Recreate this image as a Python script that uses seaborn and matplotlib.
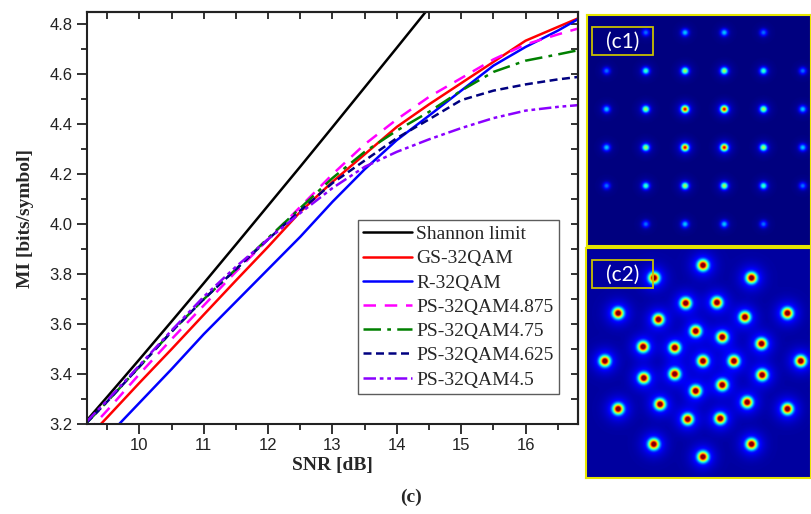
import numpy as np
import pandas as pd
import matplotlib
matplotlib.use("Agg")
import matplotlib.pyplot as plt
import seaborn as sns
from matplotlib.ticker import MultipleLocator, FormatStrFormatter
from matplotlib.patches import Rectangle

# ---------------- data ----------------
snr = [9.18, 9.5, 10, 10.5, 11, 11.5, 12, 12.5, 13, 13.5, 14, 14.5, 15, 15.5, 16, 16.5, 16.82]
snr_shannon = [9.18, 9.5, 10, 10.5, 11, 11.5, 12, 12.5, 13, 13.5, 14, 14.5, 15]
shannon = [3.214, 3.309, 3.459, 3.611, 3.764, 3.919, 4.075, 4.231, 4.389, 4.548, 4.707, 4.867, 5.028]
gs_32qam = [3.14, 3.227, 3.365, 3.50, 3.638, 3.775, 3.91, 4.05, 4.17, 4.28, 4.39, 4.48, 4.565, 4.65, 4.735, 4.79, 4.825]
r_32qam = [3.06, 3.15, 3.285, 3.42, 3.56, 3.69, 3.82, 3.95, 4.09, 4.22, 4.337, 4.435, 4.535, 4.635, 4.71, 4.775, 4.822]
ps_4875 = [3.165, 3.255, 3.40, 3.54, 3.675, 3.81, 3.94, 4.07, 4.20, 4.32, 4.42, 4.51, 4.585, 4.66, 4.72, 4.76, 4.784]
ps_475 = [3.205, 3.29, 3.43, 3.57, 3.70, 3.82, 3.945, 4.065, 4.185, 4.29, 4.375, 4.45, 4.535, 4.61, 4.655, 4.68, 4.697]
ps_4625 = [3.205, 3.29, 3.43, 3.57, 3.70, 3.82, 3.94, 4.055, 4.165, 4.255, 4.345, 4.42, 4.497, 4.535, 4.56, 4.58, 4.59]
ps_45 = [3.21, 3.295, 3.435, 3.575, 3.71, 3.83, 3.94, 4.045, 4.145, 4.23, 4.29, 4.34, 4.385, 4.425, 4.455, 4.47, 4.477]

series_names = ["Shannon limit", "GS-32QAM", "R-32QAM", "PS-32QAM4.875",
                "PS-32QAM4.75", "PS-32QAM4.625", "PS-32QAM4.5"]

# (c1) PS-32QAM constellation (grid positions) and relative spot intensity
c1_i = [-1.5, -0.5, 0.5, 1.5,
        -2.5, -1.5, -0.5, 0.5, 1.5, 2.5,
        -2.5, -1.5, -0.5, 0.5, 1.5, 2.5,
        -2.5, -1.5, -0.5, 0.5, 1.5, 2.5,
        -2.5, -1.5, -0.5, 0.5, 1.5, 2.5,
        -1.5, -0.5, 0.5, 1.5]
c1_q = [2.5, 2.5, 2.5, 2.5,
        1.5, 1.5, 1.5, 1.5, 1.5, 1.5,
        0.5, 0.5, 0.5, 0.5, 0.5, 0.5,
        -0.5, -0.5, -0.5, -0.5, -0.5, -0.5,
        -1.5, -1.5, -1.5, -1.5, -1.5, -1.5,
        -2.5, -2.5, -2.5, -2.5]
c1_w = [0.22, 0.30, 0.30, 0.22,
        0.22, 0.40, 0.52, 0.52, 0.40, 0.22,
        0.30, 0.52, 0.86, 0.86, 0.52, 0.30,
        0.30, 0.52, 0.86, 0.86, 0.52, 0.30,
        0.22, 0.40, 0.52, 0.52, 0.40, 0.22,
        0.22, 0.30, 0.30, 0.22]

# (c2) GS-32QAM constellation points
c2_i = [0, -1.47, 1.46, -0.52, 0.42, -2.55, 2.54, -1.34, 1.26, -0.22, 0.58, -1.80, -0.85, 1.76,
        -2.95, 0, 0.93, 2.94, -1.78, -0.85, 1.78, -0.22, 0.58, -2.55, -1.29, 1.33, 2.54,
        -0.46, 0.52, -1.48, 1.46, 0]
c2_q = [2.88, 2.50, 2.50, 1.74, 1.76, 1.44, 1.44, 1.25, 1.32, 0.90, 0.72, 0.43, 0.40, 0.52,
        0, 0, 0, 0, -0.51, -0.39, -0.42, -0.90, -0.72, -1.44, -1.30, -1.24, -1.44,
        -1.75, -1.73, -2.50, -2.50, -2.88]

# ---------------- style ----------------
sns.set_theme(style="ticks")
plt.rcParams["font.family"] = ["Liberation Sans", "DejaVu Sans"]
plt.rcParams["axes.linewidth"] = 1.5

W, H = 811, 514
fig = plt.figure(figsize=(W / 100, H / 100), dpi=100)
fig.patch.set_facecolor("white")

def fx(px):
    return px / W

def fy(py):
    return 1 - py / H

L, R, T, B = 86.7, 578.3, 12.0, 424.0
ax = fig.add_axes([fx(L), fy(B), fx(R - L), (B - T) / H])
ax.set_facecolor("white")

rows = []
for name, xs, ys in [
    ("Shannon limit", snr_shannon, shannon),
    ("GS-32QAM", snr, gs_32qam),
    ("R-32QAM", snr, r_32qam),
    ("PS-32QAM4.875", snr, ps_4875),
    ("PS-32QAM4.75", snr, ps_475),
    ("PS-32QAM4.625", snr, ps_4625),
    ("PS-32QAM4.5", snr, ps_45),
]:
    for x, y in zip(xs, ys):
        rows.append({"SNR": x, "MI": y, "series": name})
df = pd.DataFrame(rows)

colors = {
    "Shannon limit": "#000000",
    "GS-32QAM": "#FF0000",
    "R-32QAM": "#0000FF",
    "PS-32QAM4.875": "#FF00FF",
    "PS-32QAM4.75": "#008000",
    "PS-32QAM4.625": "#000080",
    "PS-32QAM4.5": "#8B00FF",
}
styles = {
    "Shannon limit": "-",
    "GS-32QAM": "-",
    "R-32QAM": "-",
    "PS-32QAM4.875": (0, (5, 3.5)),
    "PS-32QAM4.75": (0, (7, 2.5, 1.5, 2.5)),
    "PS-32QAM4.625": (0, (3.2, 1.8)),
    "PS-32QAM4.5": (0, (5, 1.5, 1.5, 1.5, 1.5, 1.5)),
}

for name in series_names:
    sub = df[df["series"] == name]
    sns.lineplot(data=sub, x="SNR", y="MI", ax=ax, color=colors[name],
                 linestyle=styles[name], linewidth=1.8, label=name,
                 estimator=None, sort=False)

ax.set_xlim(9.18, 16.82)
ax.set_ylim(3.2, 4.85)
ax.xaxis.set_major_locator(MultipleLocator(1))
ax.xaxis.set_minor_locator(MultipleLocator(0.5))
ax.yaxis.set_major_locator(MultipleLocator(0.2))
ax.yaxis.set_minor_locator(MultipleLocator(0.1))
ax.yaxis.set_major_formatter(FormatStrFormatter("%.1f"))
ax.xaxis.set_major_formatter(FormatStrFormatter("%d"))
ax.tick_params(axis="both", which="major", direction="out", length=7, width=1.3,
               labelsize=12, colors="#222222", pad=3)
ax.tick_params(axis="both", which="minor", direction="out", length=4, width=1.3,
               colors="#222222")
for s in ax.spines.values():
    s.set_color("#222222")
    s.set_linewidth(1.5)

secx = ax.secondary_xaxis("top")
secx.xaxis.set_major_locator(MultipleLocator(1))
secx.xaxis.set_minor_locator(MultipleLocator(0.5))
secx.tick_params(which="both", direction="in", length=5, width=1.3, labeltop=False,
                 colors="#222222")
secy = ax.secondary_yaxis("right")
secy.yaxis.set_major_locator(MultipleLocator(0.2))
secy.yaxis.set_minor_locator(MultipleLocator(0.1))
secy.tick_params(which="both", direction="in", length=5, width=1.3, labelright=False,
                 colors="#222222")

ax.set_xlabel("SNR [dB]", fontsize=14, fontweight="bold",
              family=["Liberation Serif"], labelpad=3)
ax.set_ylabel("MI [bits/symbol]", fontsize=14, fontweight="bold",
              family=["Liberation Serif"], labelpad=11)

leg = ax.legend(loc="lower right", bbox_to_anchor=(0.961, 0.072),
                prop={"family": "Liberation Serif", "size": 14},
                frameon=True, fancybox=False, edgecolor="#333333",
                handlelength=2.5, handletextpad=0.2, labelspacing=0.34,
                borderpad=0.3, borderaxespad=0.0)
leg.get_frame().set_linewidth(1.0)

fig.text(fx(411), fy(497), "(c)", ha="center", va="center", fontsize=14,
         fontweight="bold", family=["Liberation Serif"])

# ---------------- constellation panels ----------------
def density(xs, ys, ws, sig, xlim, ylim, nx, ny, halo_amp, halo_sig, base):
    gx = np.linspace(xlim[0], xlim[1], nx)
    gy = np.linspace(ylim[0], ylim[1], ny)
    X, Y = np.meshgrid(gx, gy)
    Z = np.full_like(X, base)
    for x0, y0, w in zip(xs, ys, ws):
        d2 = (X - x0) ** 2 + (Y - y0) ** 2
        Z += w * np.exp(-d2 / (2 * sig ** 2)) + halo_amp * w * np.exp(-d2 / (2 * halo_sig ** 2))
    return np.clip(Z, 0, 1)

yellow = "#E6E600"

# c1 panel
c1_box = (586.7, 15.0, 811.0, 246.0)
cx1, cy1, ux1, uy1 = 704.0, 128.3, 39.2, 38.4
ax1 = fig.add_axes([fx(c1_box[0]), fy(c1_box[3]), fx(c1_box[2] - c1_box[0]),
                    (c1_box[3] - c1_box[1]) / H])
xl1 = ((c1_box[0] - cx1) / ux1, (c1_box[2] - cx1) / ux1)
yl1 = ((cy1 - c1_box[3]) / uy1, (cy1 - c1_box[1]) / uy1)
Z1 = density(c1_i, c1_q, c1_w, 0.062, xl1, yl1, 450, 462, 0.10, 0.16, 0.0)
ax1.imshow(Z1, cmap="jet", vmin=0, vmax=1, origin="lower", aspect="auto",
           extent=(xl1[0], xl1[1], yl1[0], yl1[1]), interpolation="bilinear")
ax1.set_xticks([]); ax1.set_yticks([])
for s in ax1.spines.values():
    s.set_color(yellow); s.set_linewidth(1.5)

# c2 panel
c2_box = (586.0, 248.0, 811.0, 478.0)
cx2, cy2, u2 = 703.0, 361.0, 33.33
ax2 = fig.add_axes([fx(c2_box[0]), fy(c2_box[3]), fx(c2_box[2] - c2_box[0]),
                    (c2_box[3] - c2_box[1]) / H])
xl2 = ((c2_box[0] - cx2) / u2, (c2_box[2] - cx2) / u2)
yl2 = ((cy2 - c2_box[3]) / u2, (cy2 - c2_box[1]) / u2)
Z2 = density(c2_i, c2_q, [1.0] * len(c2_i), 0.10, xl2, yl2, 450, 460, 0.12, 0.26, 0.03)
ax2.imshow(Z2, cmap="jet", vmin=0, vmax=1, origin="lower", aspect="auto",
           extent=(xl2[0], xl2[1], yl2[0], yl2[1]), interpolation="bilinear")
ax2.set_xticks([]); ax2.set_yticks([])
for s in ax2.spines.values():
    s.set_color(yellow); s.set_linewidth(1.5)

# label boxes
for (bx, by, txt) in [(591.7, 27.3, "(c1)"), (591.7, 260.0, "(c2)")]:
    rect = Rectangle((fx(bx), fy(by + 27.7)), fx(61), 27.7 / H, transform=fig.transFigure,
                     fill=False, edgecolor="#C8C000", linewidth=1.3, zorder=5)
    fig.add_artist(rect)
    fig.text(fx(bx + 30.5), fy(by + 14.5), txt, color="white", ha="center", va="center",
             fontsize=15, family=["Lato", "DejaVu Sans"], zorder=6)

fig.savefig("out.png", dpi=100, facecolor="white")
